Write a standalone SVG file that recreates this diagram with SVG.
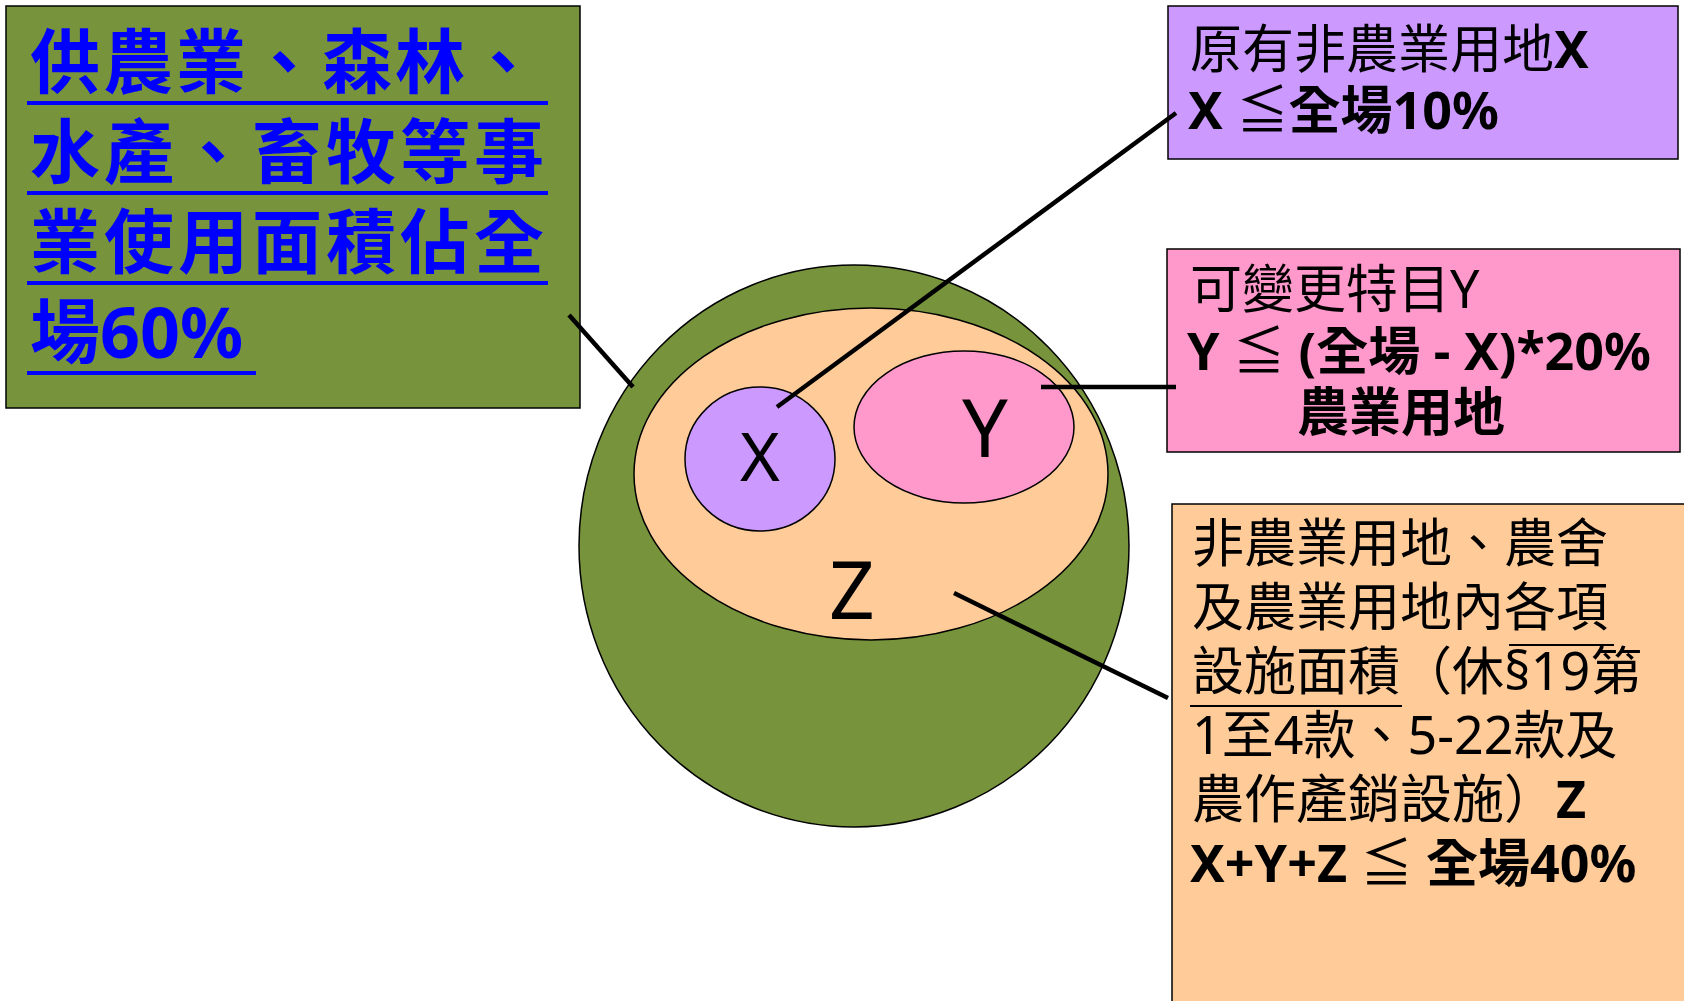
<svg xmlns="http://www.w3.org/2000/svg" width="1684" height="1001" viewBox="0 0 1684 1001">
<style>
.t{font-family:"Noto Sans","Noto Sans CJK TC",sans-serif;font-size:52px;fill:#000}
.b{font-weight:bold}
.n{font-weight:normal}
.blue{font-family:"Noto Sans","Noto Sans CJK TC",sans-serif;font-size:70px;font-weight:bold;fill:#0000FF}
.lbl{font-family:"Noto Sans",sans-serif;fill:#000;text-anchor:middle}
.box{stroke:#000;stroke-width:1.5}
.sh{stroke:#000;stroke-width:1.5}
.ul{stroke:#0000FF;stroke-width:4}
.ulk{stroke:#000;stroke-width:2}
.con line{stroke:#000;stroke-width:4.5}
</style>
<rect width="1684" height="1001" fill="#fff"/>
<g id="venn">
<ellipse class="sh" cx="854" cy="546" rx="275" ry="281" fill="#77933C"/>
<ellipse class="sh" cx="871" cy="474" rx="237" ry="166" fill="#FFCC99"/>
<ellipse class="sh" cx="760" cy="459" rx="75" ry="72" fill="#CC99FF"/>
<ellipse class="sh" cx="964" cy="427" rx="110" ry="76" fill="#FF99CC"/>
<text class="lbl" x="760" y="481" font-size="68">X</text>
<text class="lbl" x="985" y="457" font-size="81">Y</text>
<text class="lbl" x="852" y="619" font-size="80">Z</text>
</g>
<g id="box-green">
<rect class="box" x="6" y="6" width="574" height="402" fill="#77933C"/>
<text class="blue" x="30" y="88" textLength="508" lengthAdjust="spacing">供農業、森林、</text>
<text class="blue" x="30" y="178" textLength="514" lengthAdjust="spacing">水產、畜牧等事</text>
<text class="blue" x="30" y="268" textLength="514" lengthAdjust="spacing">業使用面積佔全</text>
<text class="blue" x="30" y="358">場60%</text>
<line class="ul" x1="27" y1="103" x2="548" y2="103"/>
<line class="ul" x1="27" y1="193" x2="548" y2="193"/>
<line class="ul" x1="27" y1="283" x2="548" y2="283"/>
<line class="ul" x1="27" y1="373" x2="256" y2="373"/>
</g>
<g id="box-x">
<rect class="box" x="1168" y="6" width="510" height="153" fill="#CC99FF"/>
<text class="t" x="1190" y="68">原有非農業用地<tspan class="b">X</tspan></text>
<text class="t b" x="1188" y="129">X <tspan class="n">≦</tspan>全場10%</text>
</g>
<g id="box-y">
<rect class="box" x="1167" y="249" width="513" height="203" fill="#FF99CC"/>
<text class="t" x="1190" y="308">可變更特目Y</text>
<text class="t b" x="1187" y="370">Y <tspan class="n">≦</tspan> (全場 - X)*20%</text>
<text class="t b" x="1297" y="431">農業用地</text>
</g>
<g id="box-z">
<rect class="box" x="1172" y="504" width="530" height="520" fill="#FFCC99"/>
<text class="t" x="1192" y="562">非農業用地、農舍</text>
<text class="t" x="1192" y="626">及農業用地內各項</text>
<text class="t" x="1192" y="690">設施面積（休§19第</text>
<text class="t" x="1192" y="754">1至4款、5-22款及</text>
<text class="t" x="1192" y="818">農作產銷設施）<tspan class="b">Z</tspan></text>
<text class="t b" x="1190" y="882">X+Y+Z <tspan class="n">≦</tspan> 全場40%</text>
<line class="ulk" x1="1509" y1="645" x2="1614" y2="645"/>
<line class="ulk" x1="1190" y1="706" x2="1402" y2="706"/>
</g>
<g id="connectors" class="con">
<line x1="569" y1="315" x2="633" y2="387"/>
<line x1="777" y1="407" x2="1176" y2="113"/>
<line x1="1041" y1="387" x2="1176" y2="387"/>
<line x1="954" y1="593" x2="1168" y2="698"/>
</g>
</svg>
